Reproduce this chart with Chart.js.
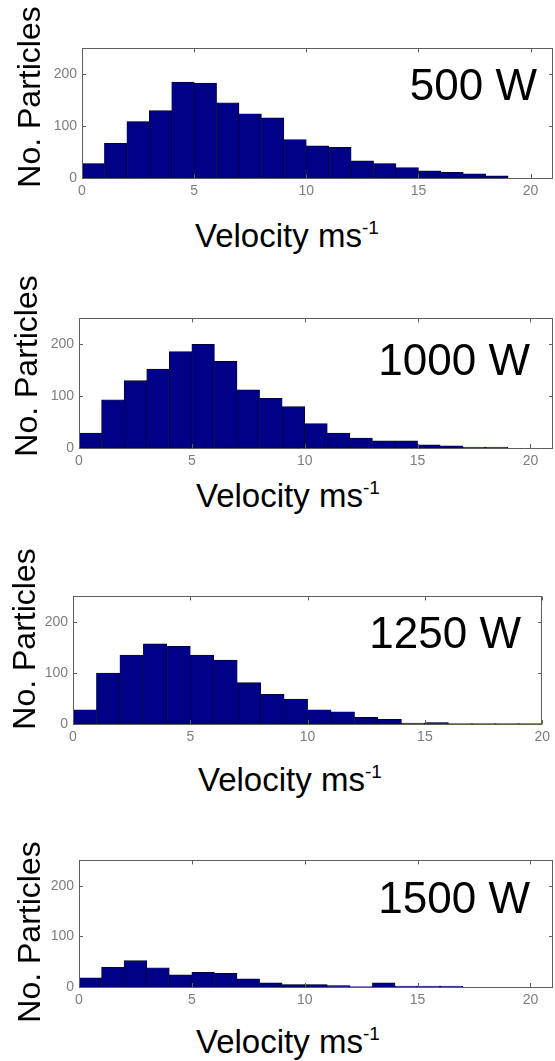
<!DOCTYPE html>
<html>
<head>
<meta charset="utf-8">
<script src="https://cdn.jsdelivr.net/npm/chart.js@4/dist/chart.umd.min.js"></script>
<style>
  body { margin: 0; background: #fff; width: 555px; height: 1061px; position: relative; overflow: hidden; }
  canvas { position: absolute; left: 0; }
  .txt { position: absolute; font-family: 'Liberation Sans', Arial, sans-serif; color: #000; white-space: nowrap; }
  .ylab { font-size: 32px; line-height: 32px; transform: translate(-50%, -50%) rotate(-90deg); }
  .xlab { font-size: 33px; line-height: 33px; }
  .xlab sup { font-size: 19px; vertical-align: 13px; line-height: 0; }
  .power { font-size: 44px; line-height: 44px; text-align: right; }
</style>
</head>
<body>
<script>
// histogram bins (1 ms-1 wide), given by their centres
var binCenters = [0.5, 1.5, 2.5, 3.5, 4.5, 5.5, 6.5, 7.5, 8.5, 9.5, 10.5,
                  11.5, 12.5, 13.5, 14.5, 15.5, 16.5, 17.5, 18.5, 19.5, 20.5]

// number of particles per bin
var counts500  = [28, 67, 109, 130, 185, 183, 145, 124, 116, 74, 62, 59, 33, 28, 20, 14, 11, 8, 4, 0, 0]
var counts1000 = [29, 93, 130, 152, 186, 200, 167, 112, 96, 80, 47, 29, 19, 14, 14, 6, 4, 2, 2, 0, 0]
var counts1250 = [28, 100, 135, 157, 152, 135, 125, 81, 58, 49, 28, 24, 13, 9, 2, 3, 1, 1, 1, 1]
var counts1500 = [18, 39, 52, 38, 24, 29, 27, 16, 8, 5, 5, 3, 1, 8, 2, 2, 2, 0, 0, 0, 0]

var panelLabels = ['500 W', '1000 W', '1250 W', '1500 W']
var xTickValues = [0, 5, 10, 15, 20]
var yTickValues = [0, 100, 200]

// plot boxes in page pixels, plus x range of each panel
var panels = [
    { counts: counts500,  xMax: 21, box: { l: 82, r: 553, t: 45,  b: 178 } },
    { counts: counts1000, xMax: 21, box: { l: 79, r: 553, t: 315, b: 448 } },
    { counts: counts1250, xMax: 20, box: { l: 73, r: 546, t: 593, b: 724 } },
    { counts: counts1500, xMax: 21, box: { l: 79, r: 553, t: 857, b: 987 } }
]

var tickFont = { family: 'Liberation Sans', size: 14 }
var tickColor = '#7d7d7d'

// draws the matlab style box with inward ticks on all four sides
var boxTicks = {
    id: 'boxTicks',
    afterDraw: function(chart) {
        var ctx = chart.ctx
        var a = chart.chartArea
        var x = chart.scales.x, y = chart.scales.y
        ctx.save()
        ctx.strokeStyle = '#5e5e5e'
        ctx.lineWidth = 1
        ctx.strokeRect(Math.round(a.left) + 0.5, Math.round(a.top) + 0.5,
                       Math.round(a.right - a.left) - 1, Math.round(a.bottom - a.top))
        ctx.beginPath()
        x.ticks.forEach(function(t) {
            var px = Math.round(x.getPixelForValue(t.value)) + 0.5
            ctx.moveTo(px, a.bottom); ctx.lineTo(px, a.bottom - 4)
            ctx.moveTo(px, a.top); ctx.lineTo(px, a.top + 4)
        })
        y.ticks.forEach(function(t) {
            var py = Math.round(y.getPixelForValue(t.value)) + 0.5
            ctx.moveTo(a.left, py); ctx.lineTo(a.left + 4, py)
            ctx.moveTo(a.right, py); ctx.lineTo(a.right - 4, py)
        })
        ctx.stroke()
        ctx.restore()
    }
}

function make_panel(p, i) {
    var yAxisW = 40, xAxisH = 24
    var top = p.box.t - 10
    var height = p.box.b - top + xAxisH + 4
    var canvas = document.createElement('canvas')
    canvas.width = 555
    canvas.height = height
    canvas.style.top = top + 'px'
    document.body.appendChild(canvas)

    var points = p.counts.map(function(c, k) { return { x: binCenters[k], y: c } })

    new Chart(canvas.getContext('2d'), {
        type: 'bar',
        data: {
            datasets: [{
                data: points,
                backgroundColor: 'rgb(0,0,135)',
                borderColor: '#00002a',
                borderWidth: 0.7,
                borderSkipped: false,
                barPercentage: 1,
                categoryPercentage: 1
            }]
        },
        options: {
            responsive: false,
            animation: false,
            layout: {
                padding: {
                    left: p.box.l - yAxisW,
                    right: 555 - p.box.r,
                    top: 10,
                    bottom: height - (p.box.b - top) - xAxisH
                }
            },
            plugins: { legend: { display: false }, tooltip: { enabled: false } },
            scales: {
                x: {
                    type: 'linear', min: 0, max: p.xMax, offset: false,
                    grid: { display: false, drawTicks: false },
                    border: { display: false },
                    afterBuildTicks: function(s) { s.ticks = xTickValues.map(function(v) { return { value: v } }) },
                    afterFit: function(s) { s.height = xAxisH },
                    ticks: { font: tickFont, color: tickColor, padding: 5, maxRotation: 0 }
                },
                y: {
                    min: 0, max: 250,
                    grid: { display: false, drawTicks: false },
                    border: { display: false },
                    afterBuildTicks: function(s) { s.ticks = yTickValues.map(function(v) { return { value: v } }) },
                    afterFit: function(s) { s.width = yAxisW },
                    ticks: { font: tickFont, color: tickColor, padding: 5 }
                }
            }
        },
        plugins: [boxTicks]
    })
}

panels.forEach(make_panel)

// text around the plots
var yLabelPos = [[29, 97], [26, 366], [24, 639], [29, 932]]
var xLabelPos = [[195, 219], [196, 479], [198, 763], [196, 1025]]
var powerPos = [[18, 63], [25, 338], [34, 611], [25, 876]]

panels.forEach(function(p, i) {
    var yl = document.createElement('div')
    yl.className = 'txt ylab'
    yl.textContent = 'No. Particles'
    yl.style.left = yLabelPos[i][0] + 'px'
    yl.style.top = yLabelPos[i][1] + 'px'
    document.body.appendChild(yl)

    var xl = document.createElement('div')
    xl.className = 'txt xlab'
    xl.innerHTML = 'Velocity ms<sup>-1</sup>'
    xl.style.left = xLabelPos[i][0] + 'px'
    xl.style.top = xLabelPos[i][1] + 'px'
    document.body.appendChild(xl)

    var pw = document.createElement('div')
    pw.className = 'txt power'
    pw.textContent = panelLabels[i]
    pw.style.right = powerPos[i][0] + 'px'
    pw.style.top = powerPos[i][1] + 'px'
    document.body.appendChild(pw)
})
</script>
</body>
</html>
